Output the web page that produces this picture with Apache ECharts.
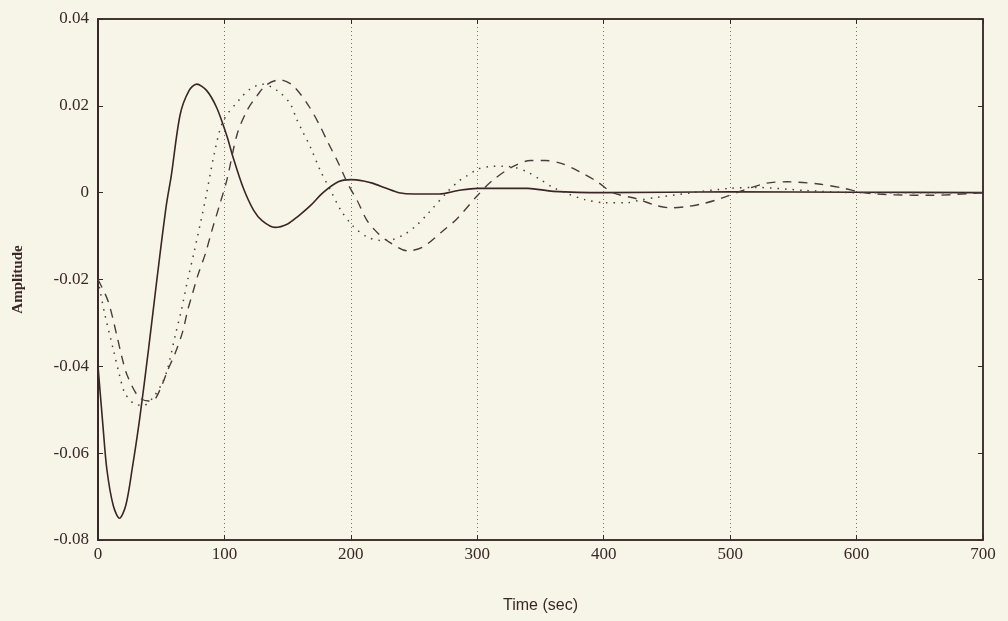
<!DOCTYPE html>
<html>
<head>
<meta charset="utf-8">
<script src="https://cdn.jsdelivr.net/npm/echarts@6/dist/echarts.min.js"></script>
<style>
  html, body { margin: 0; padding: 0; background: #f7f5e8; }
  #chart { width: 1008px; height: 621px; }
</style>
</head>
<body>
<div id="chart"></div>
<script>
// [time (sec), amplitude] pairs
const solidData = [
  [0, -0.040], [2, -0.047], [4, -0.054], [7, -0.0637], [12, -0.072], [17, -0.075],
  [22, -0.072], [27, -0.0637], [33, -0.052], [40, -0.036], [47, -0.019], [54, -0.003],
  [58, 0.004], [65, 0.018], [72, 0.0235], [78, 0.025], [86, 0.0235], [94, 0.0195],
  [102, 0.013], [107, 0.008], [115, 0.001], [123, -0.004], [130, -0.0065], [140, -0.008],
  [150, -0.0072], [158, -0.0055], [168, -0.003], [178, 0], [190, 0.0025], [200, 0.003],
  [210, 0.0027], [217, 0.0022], [228, 0.001], [238, 0], [250, -0.0003], [270, -0.0003],
  [285, 0.0005], [300, 0.001], [340, 0.001], [360, 0.0003], [400, 0], [500, 0.0002],
  [600, 0.0001], [700, 0]
];
const dottedData = [
  [0, -0.020], [5, -0.0275], [12, -0.036], [17, -0.042], [21, -0.046], [28, -0.0485],
  [36, -0.049], [44, -0.047], [51, -0.0437], [55, -0.0406], [61, -0.033], [66, -0.027],
  [71, -0.020], [76, -0.0137], [85, -0.0015], [92, 0.009], [99, 0.0165], [112, 0.0215],
  [120, 0.0238], [130, 0.025], [142, 0.0235], [152, 0.0205], [157, 0.017], [162, 0.014],
  [168, 0.0105], [176, 0.005], [184, 0.0005], [192, -0.004], [202, -0.0078], [213, -0.0102],
  [223, -0.011], [233, -0.0108], [243, -0.0095], [252, -0.0075], [261, -0.0048], [277, 0.0004],
  [286, 0.0028], [292, 0.0039], [301, 0.0055], [310, 0.006], [320, 0.0061], [330, 0.0058],
  [340, 0.0047], [350, 0.003], [360, 0.0012], [372, -0.0003], [385, -0.0016], [400, -0.0023],
  [419, -0.0023], [429, -0.0017], [442, -0.0011], [470, 0], [500, 0.001], [520, 0.0012],
  [560, 0.0005], [600, 0], [650, 0], [700, 0]
];
const dashedData = [
  [0, -0.020], [8, -0.025], [15, -0.033], [19, -0.038], [23, -0.042], [32, -0.047],
  [40, -0.048], [45, -0.0476], [51, -0.044], [55, -0.041], [61, -0.037], [67, -0.032],
  [71, -0.027], [75, -0.023], [79, -0.019], [85, -0.014], [90, -0.0088], [96, -0.003],
  [102, 0.003], [110, 0.0134], [118, 0.019], [126, 0.0224], [133, 0.0248], [144, 0.026],
  [154, 0.0247], [166, 0.0203], [175, 0.0157], [182, 0.0115], [190, 0.0069], [198, 0.0018],
  [205, -0.0018], [213, -0.0065], [222, -0.0095], [231, -0.0115], [245, -0.0134], [257, -0.0125],
  [272, -0.009], [284, -0.006], [300, -0.0007], [312, 0.0028], [328, 0.006], [342, 0.0074],
  [354, 0.0074], [367, 0.0067], [381, 0.0048], [395, 0.0025], [407, 0], [426, -0.0014],
  [442, -0.003], [453, -0.0035], [466, -0.0032], [479, -0.0025], [492, -0.0014], [510, 0.0005],
  [529, 0.0022], [545, 0.0025], [570, 0.002], [590, 0.001], [605, 0], [630, -0.0005],
  [660, -0.0006], [700, 0]
];
const xTicks = { min: 0, max: 700, step: 100 };
const yTicks = { min: -0.08, max: 0.04, step: 0.02 };

const ink = '#3a2828';
const labelFont = 'Liberation Serif';

const chart = echarts.init(document.getElementById('chart'));

const fmtY = (v) => (Math.abs(v) < 1e-9 ? '0' : v.toFixed(2));

const option = {
  backgroundColor: '#f7f5e8',
  animation: false,
  grid: {
    left: 98, right: 25, top: 19, bottom: 81,
    show: true, borderColor: ink, borderWidth: 1.5, backgroundColor: 'transparent'
  },
  xAxis: [
    {
      type: 'value',
      min: xTicks.min, max: xTicks.max, interval: xTicks.step,
      name: 'Time (sec)',
      nameLocation: 'middle',
      nameGap: 58,
      nameTextStyle: { fontFamily: 'Liberation Sans', fontSize: 16, color: ink },
      axisLine: { show: true, onZero: false, lineStyle: { color: ink, width: 1.5 } },
      axisTick: { show: true, inside: true, length: 5, lineStyle: { color: ink } },
      axisLabel: { fontFamily: labelFont, fontSize: 17, color: ink, margin: 6 },
      splitLine: { show: true, lineStyle: { color: '#7a7070', width: 1, type: [1, 3] } }
    },
    {
      type: 'value', position: 'top',
      min: xTicks.min, max: xTicks.max, interval: xTicks.step,
      axisLine: { show: true, onZero: false, lineStyle: { color: ink, width: 1.5 } },
      axisTick: { show: true, inside: true, length: 5, lineStyle: { color: ink } },
      axisLabel: { show: false },
      splitLine: { show: false }
    }
  ],
  yAxis: [
    {
      type: 'value',
      min: yTicks.min, max: yTicks.max, interval: yTicks.step,
      name: 'Amplitude',
      nameLocation: 'middle',
      nameGap: 72,
      nameTextStyle: { fontFamily: labelFont, fontWeight: 'bold', fontSize: 15, color: ink },
      axisLine: { show: true, onZero: false, lineStyle: { color: ink, width: 2 } },
      axisTick: { show: true, inside: true, length: 5, lineStyle: { color: ink } },
      axisLabel: { fontFamily: labelFont, fontSize: 17, color: ink, margin: 9, formatter: fmtY },
      splitLine: { show: false }
    },
    {
      type: 'value', position: 'right',
      min: yTicks.min, max: yTicks.max, interval: yTicks.step,
      axisLine: { show: true, onZero: false, lineStyle: { color: ink, width: 1.5 } },
      axisTick: { show: true, inside: true, length: 5, lineStyle: { color: ink } },
      axisLabel: { show: false },
      splitLine: { show: false }
    }
  ],
  series: [
    {
      name: 'solid', type: 'line', data: solidData, smooth: 0.3, showSymbol: false,
      lineStyle: { color: '#3a2626', width: 1.6, type: 'solid' }
    },
    {
      name: 'dotted', type: 'line', data: dottedData, smooth: 0.3, showSymbol: false,
      lineStyle: { color: '#4a3c3c', width: 1.5, type: [1.5, 6] }
    },
    {
      name: 'dashed', type: 'line', data: dashedData, smooth: 0.3, showSymbol: false,
      lineStyle: { color: '#4a3c3c', width: 1.4, type: [9, 7] }
    }
  ]
};

chart.setOption(option);
</script>
</body>
</html>
